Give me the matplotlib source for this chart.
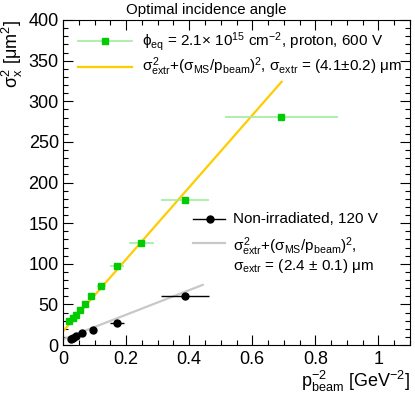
import numpy as np
import matplotlib
matplotlib.use('Agg')
from matplotlib import pyplot as plt
from matplotlib.ticker import MultipleLocator

plt.rcParams['font.family'] = ['Liberation Sans', 'DejaVu Sans']
plt.rcParams['mathtext.fontset'] = 'custom'
plt.rcParams['mathtext.rm'] = 'Liberation Sans'
plt.rcParams['mathtext.it'] = 'Liberation Sans'
plt.rcParams['mathtext.bf'] = 'Liberation Sans:bold'

# irradiated sensor, 600 V
irr_x = [0.020, 0.031, 0.041, 0.054, 0.069, 0.090, 0.122, 0.170, 0.248, 0.387, 0.692]
irr_y = [29, 33, 37, 43, 51, 60, 73, 97, 125, 179, 281]
irr_xerr = [0.0009, 0.0017, 0.0026, 0.0039, 0.0056, 0.0084, 0.013, 0.022, 0.040, 0.076, 0.18]

# non-irradiated sensor, 120 V
non_x = [0.024, 0.031, 0.040, 0.059, 0.094, 0.170, 0.387]
non_y = [7.5, 9, 10.5, 14.5, 18.5, 27.5, 60.5]
non_xerr = [0.0012, 0.0017, 0.0025, 0.0045, 0.009, 0.022, 0.076]

# fit lines (end points)
fit_irr_x = [0.0, 0.693]
fit_irr_y = [16.8, 324]
fit_non_x = [0.0, 0.443]
fit_non_y = [7.0, 74]

GREEN = '#00cc00'
LIGHT_GREEN = '#a0eea0'
YELLOW = '#ffcc00'
GREY = '#c8c8c8'
FS_LEG = 11

fig = plt.figure(figsize=(4.15, 3.99), dpi=100)
ax = fig.add_axes([63 / 415, 54 / 399, 347 / 415, 325 / 399])

ax.plot(fit_irr_x, fit_irr_y, color=YELLOW, lw=1.6, zorder=2)
ax.plot(fit_non_x, fit_non_y, color=GREY, lw=1.6, zorder=2)

ax.errorbar(irr_x, irr_y, xerr=irr_xerr, fmt='s', color=GREEN, ms=5,
            ecolor=LIGHT_GREEN, elinewidth=1.2, capsize=0, zorder=3)
ax.errorbar(non_x, non_y, xerr=non_xerr, fmt='o', color='black', ms=5,
            ecolor='black', elinewidth=1.0, capsize=0, zorder=3)

ax.set_xlim(0, 1.1)
ax.set_ylim(0, 400)
ax.xaxis.set_major_locator(MultipleLocator(0.2))
ax.xaxis.set_minor_locator(MultipleLocator(0.05))
ax.yaxis.set_major_locator(MultipleLocator(50))
ax.yaxis.set_minor_locator(MultipleLocator(10))
ax.xaxis.set_major_formatter(plt.FuncFormatter(lambda v, p: '%g' % round(v, 2)))
ax.tick_params(which='both', direction='in', top=True, right=True, labelsize=13, colors='black')
ax.tick_params(which='major', length=7.5, width=0.8)
ax.tick_params(which='minor', length=3.8, width=0.8)
ax.tick_params(axis='x', pad=4)
ax.tick_params(axis='y', pad=3)
for s in ax.spines.values():
    s.set_linewidth(0.8)

ax.set_xlabel(r'$\mathrm{p^{-2}_{beam}}$ [GeV$^{-2}$]', fontsize=13, ha='right', va='top')
ax.xaxis.set_label_coords(1.0, -0.072)
ax.set_ylabel(r'$\sigma^{2}_{x}$ [$\mu$m$^{2}$]', fontsize=13, ha='right')
ax.yaxis.set_label_coords(-0.11, 1.0)
fig.text(206 / 415, 1 - 10 / 399, 'Optimal incidence angle', ha='center', va='center', fontsize=10.8)

# legend 1 (top left)
tr = ax.transAxes
ax.plot([0.043, 0.199], [0.935, 0.935], color=LIGHT_GREEN, lw=1.2, transform=tr, clip_on=False)
ax.plot([0.121], [0.935], 's', color=GREEN, ms=5, transform=tr, clip_on=False)
ax.text(0.228, 0.935, r'$\phi_{eq}$ = 2.1$\times$ 10$^{15}$ cm$^{-2}$, proton, 600 V',
        transform=tr, va='center', ha='left', fontsize=FS_LEG)
ax.plot([0.043, 0.199], [0.855, 0.855], color=YELLOW, lw=1.6, transform=tr, clip_on=False)
ax.text(0.228, 0.855, r'$\sigma^{2}_{extr}$+($\sigma_{MS}$/p$_{beam}$)$^{2}$, $\sigma_{extr}$ = (4.1$\pm$0.2) $\mu$m',
        transform=tr, va='center', ha='left', fontsize=FS_LEG)

# legend 2 (middle right)
ax.plot([0.375, 0.467], [0.388, 0.388], color='black', lw=1.0, transform=tr)
ax.plot([0.424], [0.388], 'o', color='black', ms=5, transform=tr)
ax.text(0.49, 0.388, 'Non-irradiated, 120 V', transform=tr, va='center', ha='left', fontsize=FS_LEG)
ax.plot([0.375, 0.467], [0.314, 0.314], color=GREY, lw=1.6, transform=tr)
ax.text(0.49, 0.304, r'$\sigma^{2}_{extr}$+($\sigma_{MS}$/p$_{beam}$)$^{2}$,',
        transform=tr, va='center', ha='left', fontsize=FS_LEG)
ax.text(0.49, 0.242, r'$\sigma_{extr}$ = (2.4 $\pm$ 0.1) $\mu$m',
        transform=tr, va='center', ha='left', fontsize=FS_LEG)

fig.savefig('out.png', dpi=100)
